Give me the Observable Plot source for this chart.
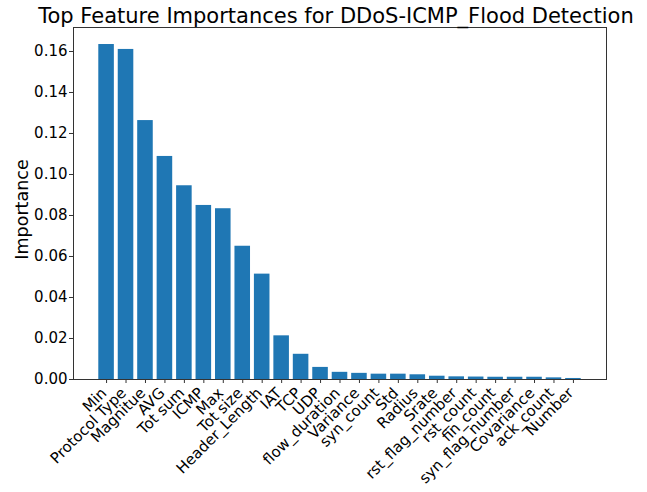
<!DOCTYPE html>
<html>
<head>
<meta charset="utf-8">
<script src="https://cdn.jsdelivr.net/npm/d3@7"></script>
<script src="https://cdn.jsdelivr.net/npm/@observablehq/plot@0.6"></script>
<style>
  html, body { margin: 0; padding: 0; background: #fff; }
  #chart svg { display: block; }
</style>
</head>
<body>
<div id="chart"></div>
<script>
const features = ["Min", "Protocol Type", "Magnitue", "AVG", "Tot sum", "ICMP", "Max", "Tot size",
  "Header_Length", "IAT", "TCP", "UDP", "flow_duration", "Variance", "syn_count", "Std", "Radius",
  "Srate", "rst_flag_number", "rst_count", "fin_count", "syn_flag_number", "Covariance", "ack_count", "Number"];
const importances = [0.1634, 0.1610, 0.1263, 0.1088, 0.0945, 0.0849, 0.0833, 0.0650,
  0.0514, 0.0213, 0.0123, 0.0059, 0.0035, 0.0030, 0.0026, 0.0026, 0.0023,
  0.0016, 0.0013, 0.0012, 0.0011, 0.0011, 0.0011, 0.0008, 0.0005];
const yTicks = [0, 0.02, 0.04, 0.06, 0.08, 0.10, 0.12, 0.14, 0.16];
const title = "Top Feature Importances for DDoS-ICMP_Flood Detection";
const yLabel = "Importance";

const data = features.map((f, i) => ({feature: f, value: importances[i]}));
const font = "DejaVu Sans";

const chart = Plot.plot({
  width: 647,
  height: 492,
  marginLeft: 73,
  marginRight: 41,
  marginTop: 27,
  marginBottom: 113,
  style: {fontFamily: font, background: "#fff", color: "#000"},
  x: {type: "band", domain: features, paddingInner: 0.2, paddingOuter: 1.3, round: false, axis: null},
  y: {domain: [0, 0.1717], axis: null},
  marks: [
    Plot.barY(data, {x: "feature", y: "value", fill: "#1f77b4"}),
    // tick marks only
    Plot.axisX({ticks: features, tickSize: 4, tickFormat: () => "", label: null, stroke: "#333"}),
    // rotated tick labels only
    Plot.axisX({ticks: features, tickSize: 0, tickPadding: 6, tickRotate: -45, fontSize: 15, dx: -2.5, dy: 5, label: null, fill: "#000"}),
    Plot.axisY({ticks: yTicks, tickSize: 4, tickPadding: 2, tickFormat: d3.format(".2f"), fontSize: 15, label: null, stroke: "#333", fill: "#000"}),
    Plot.frame({stroke: "#333", strokeWidth: 1}),
    Plot.text([title], {frameAnchor: "top", lineAnchor: "bottom", dy: -5, dx: -4, fontSize: 21, fill: "#000", text: d => d}),
    Plot.text([yLabel], {frameAnchor: "left", rotate: -90, dx: -45.5, dy: 6, fontSize: 17.5, fill: "#000", text: d => d, textAnchor: "middle", lineAnchor: "bottom"})
  ]
});
document.getElementById("chart").appendChild(chart);
</script>
</body>
</html>
